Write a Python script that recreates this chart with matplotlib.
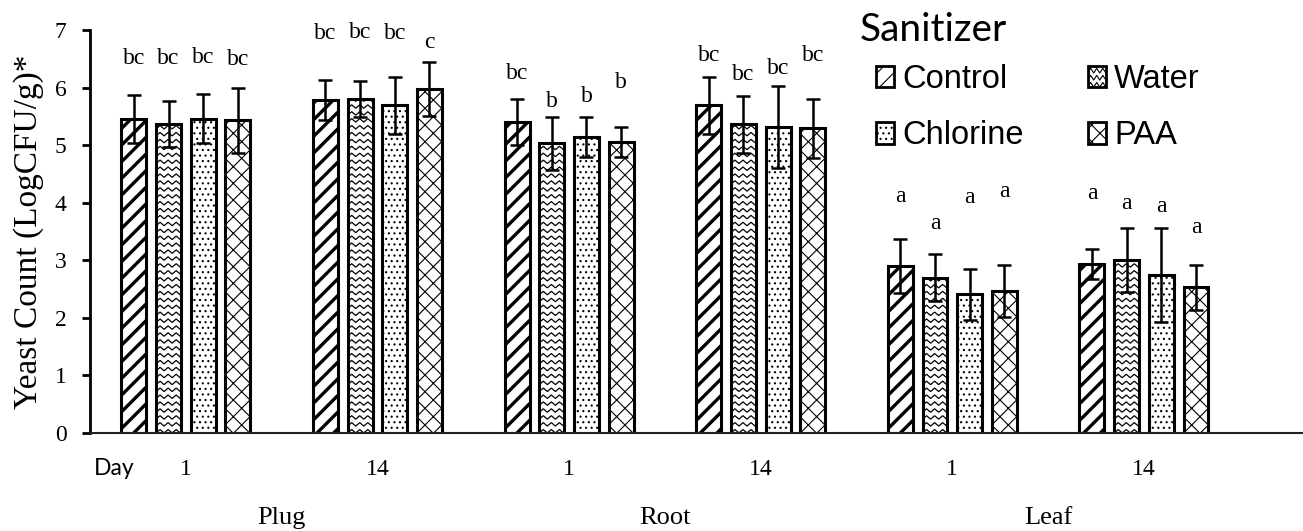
import numpy as np
import matplotlib
matplotlib.use('Agg')
import matplotlib.pyplot as plt
from matplotlib.patches import Patch
from matplotlib.lines import Line2D
from matplotlib.legend_handler import HandlerPatch

days = ['1', '14', '1', '14', '1', '14']
tissues = ['Plug', 'Root', 'Leaf']
treatments = ['Control', 'Water', 'Chlorine', 'PAA']

control = [5.45, 5.78, 5.40, 5.69, 2.90, 2.93]
water = [5.36, 5.80, 5.03, 5.36, 2.70, 3.00]
chlorine = [5.46, 5.69, 5.14, 5.31, 2.41, 2.74]
paa = [5.43, 5.97, 5.05, 5.29, 2.47, 2.53]

control_err = [0.42, 0.35, 0.40, 0.49, 0.47, 0.26]
water_err = [0.40, 0.31, 0.46, 0.49, 0.40, 0.56]
chlorine_err = [0.43, 0.49, 0.35, 0.71, 0.44, 0.82]
paa_err = [0.57, 0.47, 0.26, 0.51, 0.45, 0.39]

control_let = ['bc', 'bc', 'bc', 'bc', 'a', 'a']
water_let = ['bc', 'bc', 'b', 'bc', 'a', 'a']
chlorine_let = ['bc', 'bc', 'b', 'bc', 'a', 'a']
paa_let = ['bc', 'c', 'b', 'bc', 'a', 'a']

# heights where the letters sit
control_let_y = [6.51, 6.94, 6.25, 6.56, 4.11, 4.16]
water_let_y = [6.51, 6.96, 5.75, 6.22, 3.63, 3.99]
chlorine_let_y = [6.53, 6.94, 5.84, 6.33, 4.09, 3.93]
paa_let_y = [6.49, 6.79, 6.08, 6.55, 4.19, 3.57]

means = [control, water, chlorine, paa]
errs = [control_err, water_err, chlorine_err, paa_err]
letters = [control_let, water_let, chlorine_let, paa_let]
letters_y = [control_let_y, water_let_y, chlorine_let_y, paa_let_y]
hatches = ['//', None, '...', 'xx']

serif = 'Liberation Serif'
plt.rcParams['hatch.linewidth'] = 0.8
plt.rcParams['hatch.color'] = 'black'


def zigzag(ax, x0, y0, w, h, clip):
    # wavy texture for the water bars
    xs = np.arange(x0, x0 + w + 0.04, 0.021)
    amp = np.where(np.arange(len(xs)) % 2 == 0, 0.0, 0.06)
    for yr in np.arange(y0, y0 + h + 0.12, 0.12):
        ln, = ax.plot(xs, yr + amp, color='k', lw=0.9, solid_joinstyle='miter')
        ln.set_clip_path(clip)


class ZigzagHandler(HandlerPatch):
    def create_artists(self, legend, orig_handle, xdescent, ydescent,
                       width, height, fontsize, trans):
        arts = super().create_artists(legend, orig_handle, xdescent, ydescent,
                                      width, height, fontsize, trans)
        rect = arts[0]
        out = [rect]
        xs = np.linspace(-xdescent, -xdescent + width, 7)
        amp = np.where(np.arange(7) % 2 == 0, 0.0, height * 0.22)
        for yr in np.linspace(-ydescent, -ydescent + height, 4):
            ln = Line2D(xs, yr + amp, color='k', lw=0.8, transform=trans)
            ln.set_clip_path(rect)
            out.append(ln)
        return out


fig = plt.figure(figsize=(13.03, 5.31), dpi=100)
ax = fig.add_axes([0.0691, 0.1846, 0.9309, 0.759])

x = np.arange(len(days))
step = 0.181
width = 0.13
for i, name in enumerate(treatments):
    pos = x + (i - 1.5) * step
    lw_h = 2.4 if name == 'Control' else 0.8
    with plt.rc_context({'hatch.linewidth': lw_h}):
        bars = ax.bar(pos, means[i], width, facecolor='white', edgecolor='black',
                      linewidth=2.2, hatch=hatches[i], zorder=2)
    for b in bars:
        if hasattr(b, 'set_hatch_linewidth'):
            b.set_hatch_linewidth(lw_h)
        if name == 'Water':
            zigzag(ax, b.get_x(), b.get_y(), b.get_width(), b.get_height(), b)
    ax.errorbar(pos, means[i], yerr=errs[i], fmt='none', ecolor='black',
                elinewidth=1.8, capsize=4.7, capthick=1.8, zorder=3)
    for xp, t, ty in zip(pos, letters[i], letters_y[i]):
        ax.text(xp, ty, t, ha='center', va='center', fontsize=17, family=serif)

ax.set_xlim(-0.5, 5.83)
ax.set_ylim(0, 7)
ax.spines['top'].set_visible(False)
ax.spines['right'].set_visible(False)
ax.spines['left'].set_linewidth(2.0)
ax.spines['bottom'].set_linewidth(1.5)
ax.spines['bottom'].set_color('#222222')

ax.set_yticks(range(0, 8))
ax.tick_params(axis='y', direction='out', length=6, width=2.0, pad=11,
               labelsize=17, labelfontfamily=serif)
ax.set_xticks(x)
ax.set_xticklabels(days)
ax.tick_params(axis='x', length=0, pad=19, labelsize=17, labelfontfamily=serif)

ax.set_ylabel('Yeast Count (LogCFU/g)*', fontsize=24, family=serif)
ax.yaxis.set_label_coords(-0.038, 0.5)

tr = ax.get_xaxis_transform()
for k, t in enumerate(tissues):
    ax.text(2 * k + 0.5, -0.21, t, ha='center', va='center', fontsize=19,
            family=serif, transform=tr)
ax.text(-0.375, -0.087, 'Day', ha='center', va='center', fontsize=16.5,
        family='Lato', transform=tr)

# legend, filled column by column so rows read Control/Water, Chlorine/PAA
order = [0, 2, 1, 3]
handles = [Patch(facecolor='white', edgecolor='black', linewidth=2.0,
                 hatch=hatches[j], label=treatments[j]) for j in order]
fig.text(860 / 1303, 1 - 30 / 531, 'Sanitizer', va='center', ha='left',
         family='Lato', fontsize=28)
leg = fig.legend(handles=handles, ncol=2, loc='upper left',
                 bbox_to_anchor=(876 / 1303, 1 - 64 / 531), frameon=False,
                 prop={'family': 'Liberation Sans', 'size': 23.5},
                 handlelength=0.56, handleheight=0.62, handletextpad=0.25,
                 columnspacing=1.95, labelspacing=0.78, borderpad=0.0,
                 borderaxespad=0.0,
                 handler_map={handles[2]: ZigzagHandler()})

fig.savefig('out.png', dpi=100)
plt.close('all')
